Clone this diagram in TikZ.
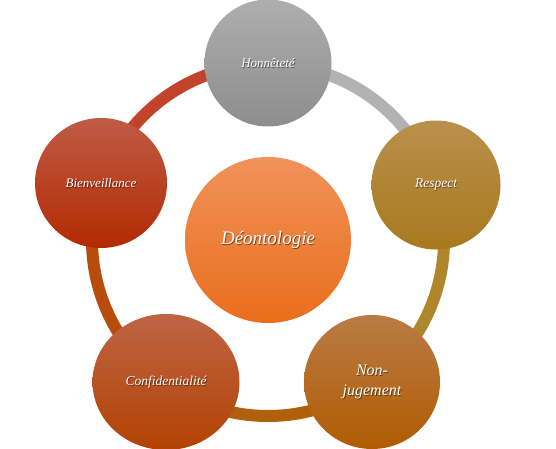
\documentclass[tikz,border=0pt]{standalone}
\usepackage{fontspec}
\setmainfont{Liberation Serif}
\usetikzlibrary{shapes.geometric,calc}
\definecolor{honT}{HTML}{AEAEAE}\definecolor{honB}{HTML}{8D8D8D}
\definecolor{resT}{HTML}{BA904C}\definecolor{resB}{HTML}{A8791E}
\definecolor{njT}{HTML}{BA7B46}\definecolor{njB}{HTML}{B05C02}
\definecolor{coT}{HTML}{BF6445}\definecolor{coB}{HTML}{B24202}
\definecolor{biT}{HTML}{BF5B45}\definecolor{biB}{HTML}{B32A02}
\definecolor{deT}{HTML}{F0925A}\definecolor{deB}{HTML}{EA6E1C}
\definecolor{rHon}{HTML}{B2B2B2}\definecolor{rRes}{HTML}{B0862C}
\definecolor{rNj}{HTML}{B0600C}\definecolor{rCo}{HTML}{B74C0C}
\definecolor{rBi}{HTML}{C2432A}
\tikzset{
  bub/.style={ellipse, inner sep=0pt},
  ringseg/.style={line width=12pt, line cap=butt},
  lbl/.style={text=white, align=center, inner sep=0pt},
  shd/.style={text=black, opacity=.5, align=center, inner sep=0pt}
}
\begin{document}
\begin{tikzpicture}[x=1pt,y=-1pt]
\useasboundingbox (0,0) rectangle (556,449);
\coordinate (O) at (268,240);
\coordinate (pHon) at (268,64);
\coordinate (pRes) at ($(O)+(-18:176)$);
\coordinate (pNj) at ($(O)+(54:176)$);
\coordinate (pCo) at ($(O)+(126:176)$);
\coordinate (pBi) at ($(O)+(198:176)$);
% ring
\draw[ringseg, rHon] (pHon) arc[start angle=-90, end angle=-18, radius=176];
\draw[ringseg, rRes] (pRes) arc[start angle=-18, end angle=54, radius=176];
\draw[ringseg, rNj] (pNj) arc[start angle=54, end angle=126, radius=176];
\draw[ringseg, rCo] (pCo) arc[start angle=126, end angle=198, radius=176];
\draw[ringseg, rBi] (pBi) arc[start angle=198, end angle=270, radius=176];
% bubbles
\node[bub, minimum width=127pt, minimum height=127pt, top color=honT, bottom color=honB] (hon) at (268,63) {};
\node[bub, minimum width=129pt, minimum height=129pt, top color=resT, bottom color=resB] (res) at (436,185) {};
\node[bub, minimum width=136pt, minimum height=134pt, top color=njT, bottom color=njB] (nj) at (372,382) {};
\node[bub, minimum width=147pt, minimum height=136pt, top color=coT, bottom color=coB] (co) at (166,382) {};
\node[bub, minimum width=132pt, minimum height=130pt, top color=biT, bottom color=biB] (bi) at (101,183) {};
\node[bub, minimum width=166pt, minimum height=166pt, top color=deT, bottom color=deB] (de) at (268,240) {};
% labels
\foreach \n/\t/\s/\b in {hon/Honnêteté/13/14, res/Respect/13.5/14, nj/{Non-\\jugement}/16/20, co/Confidentialité/13.5/14, bi/Bienveillance/13/14, de/Déontologie/19/20}{
  \node[shd, font=\fontsize{\s}{\b}\selectfont\itshape] at ($(\n)+(0.8,1)$) {\t};
  \node[lbl, font=\fontsize{\s}{\b}\selectfont\itshape] at (\n) {\t};
}
\end{tikzpicture}
\end{document}
